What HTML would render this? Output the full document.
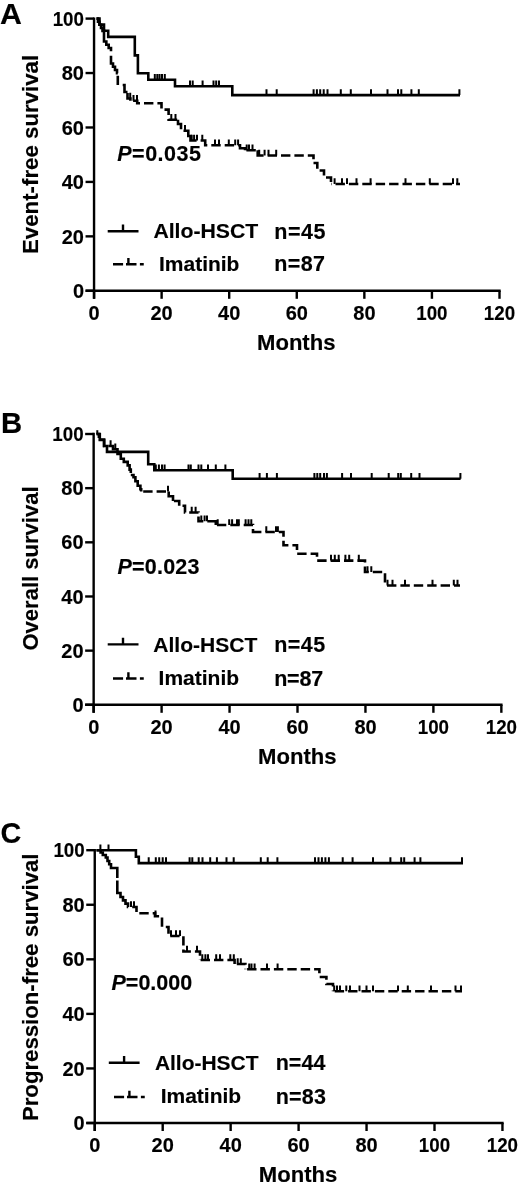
<!DOCTYPE html>
<html><head><meta charset="utf-8"><title>Survival curves</title>
<style>
html,body{margin:0;padding:0;background:#fff;}
svg{display:block;}
text{font-family:"Liberation Sans",Arial,Helvetica,sans-serif;font-weight:bold;fill:#000;stroke:#000;stroke-width:0.15px;}
.t{font-size:20px;}
.big{font-size:29px;}
.yt{font-size:22.7px;}
.p{font-size:21px;}
.m{font-size:22px;}
.l{font-size:21px;}
</style></head><body>
<svg width="520" height="1186" viewBox="0 0 520 1186">
<rect width="520" height="1186" fill="#fff"/>
<path d="M94.05,17.40V298.80" stroke="#000" stroke-width="2.4" fill="none"/>
<path d="M85.55,290.80H500.70" stroke="#000" stroke-width="2.4" fill="none"/>
<path d="M85.55,18.60H94.05" stroke="#000" stroke-width="2.4"/>
<text x="84.0" y="25.7" text-anchor="end" class="t" textLength="31.3" lengthAdjust="spacingAndGlyphs">100</text>
<path d="M85.55,73.04H94.05" stroke="#000" stroke-width="2.4"/>
<text x="84.0" y="80.1" text-anchor="end" class="t">80</text>
<path d="M85.55,127.48H94.05" stroke="#000" stroke-width="2.4"/>
<text x="84.0" y="134.6" text-anchor="end" class="t">60</text>
<path d="M85.55,181.92H94.05" stroke="#000" stroke-width="2.4"/>
<text x="84.0" y="189.0" text-anchor="end" class="t">40</text>
<path d="M85.55,236.36H94.05" stroke="#000" stroke-width="2.4"/>
<text x="84.0" y="243.5" text-anchor="end" class="t">20</text>
<path d="M85.55,290.80H94.05" stroke="#000" stroke-width="2.4"/>
<text x="84.0" y="297.9" text-anchor="end" class="t">0</text>
<path d="M94.05,290.80V298.80" stroke="#000" stroke-width="2.4"/>
<text x="94.0" y="320.1" text-anchor="middle" class="t">0</text>
<path d="M161.62,290.80V298.80" stroke="#000" stroke-width="2.4"/>
<text x="161.6" y="320.1" text-anchor="middle" class="t">20</text>
<path d="M229.20,290.80V298.80" stroke="#000" stroke-width="2.4"/>
<text x="229.2" y="320.1" text-anchor="middle" class="t">40</text>
<path d="M296.77,290.80V298.80" stroke="#000" stroke-width="2.4"/>
<text x="296.8" y="320.1" text-anchor="middle" class="t">60</text>
<path d="M364.35,290.80V298.80" stroke="#000" stroke-width="2.4"/>
<text x="364.4" y="320.1" text-anchor="middle" class="t">80</text>
<path d="M431.93,290.80V298.80" stroke="#000" stroke-width="2.4"/>
<text x="431.9" y="320.1" text-anchor="middle" class="t" textLength="31.3" lengthAdjust="spacingAndGlyphs">100</text>
<path d="M499.50,290.80V298.80" stroke="#000" stroke-width="2.4"/>
<text x="499.5" y="320.1" text-anchor="middle" class="t" textLength="31.3" lengthAdjust="spacingAndGlyphs">120</text>
<path d="M96.5,18.6 H99.5 V24.6 H104.0 V30.7 H108.2 V36.9 H134.8 V55.4 H137.9 V73.2 H148.3 V79.7 H175.0 V86.2 H232.3 V95.1 H460.0" fill="none" stroke="#000" stroke-width="2.6"/>
<path d="M154.8,79.7V73.9 M157.3,79.7V73.9 M159.6,79.7V73.9 M162.0,79.7V73.9 M164.8,79.7V73.9 M190.0,86.2V80.4 M192.7,86.2V80.4 M202.6,86.2V80.4 M213.5,86.2V80.4 M216.2,86.2V80.4 M219.0,86.2V80.4 M266.5,95.1V89.3 M276.7,95.1V89.3 M313.6,95.1V89.3 M316.9,95.1V89.3 M320.2,95.1V89.3 M323.7,95.1V89.3 M327.5,95.1V89.3 M340.8,95.1V89.3 M350.8,95.1V89.3 M371.0,95.1V89.3 M387.5,95.1V89.3 M398.0,95.1V89.3 M401.3,95.1V89.3 M411.4,95.1V89.3 M418.8,95.1V89.3 M459.4,95.1V89.3" fill="none" stroke="#000" stroke-width="2"/>

<path d="M96.50,18.60L98.00,18.60L98.00,21.68L99.50,21.68L99.50,24.76L101.00,24.76L101.00,27.84L102.50,27.84L102.50,30.92L104.00,30.92L104.00,34.00L104.00,41.50L106.33,41.50L106.33,44.77L108.67,44.77L108.67,48.03L111.00,48.03L111.00,51.30 M111.00,55.80L111.00,55.80L111.00,63.50L113.00,63.50L113.00,66.77L115.00,66.77L115.00,70.03L117.00,70.03L117.00,73.30L117.80,73.30 M117.80,75.80L117.80,75.80L117.80,85.00 M122.70,85.00L122.70,85.00L124.50,85.00L124.50,92.00L127.50,92.00 M127.50,93.00L127.50,98.50L130.40,98.50L130.40,100.80 M133.10,100.80L137.20,100.80L137.20,103.30L140.00,103.30 M144.00,103.30L153.40,103.30 M157.40,103.30L161.50,103.30L161.50,108.60 M164.50,109.60L168.60,109.60L168.60,114.90 M168.60,118.90L168.60,119.70L177.20,119.70 M178.00,119.70L178.00,119.70L178.00,124.00L181.00,124.00L181.00,129.30 M183.50,130.80L188.30,130.80L188.30,136.00L190.50,136.00L190.50,140.50L196.60,140.50 M200.60,140.50L205.20,140.50L205.20,145.20L207.30,145.20 M211.30,145.20L220.70,145.20 M224.70,145.20L234.10,145.20 M238.10,145.20L240.00,145.20L240.00,148.30L245.00,148.30L245.00,150.30 M246.40,150.30L255.80,150.30 M257.70,150.30L257.70,150.30L257.70,155.50L263.60,155.50 M267.60,155.50L277.00,155.50 M281.00,155.50L290.40,155.50 M294.40,155.50L303.80,155.50 M307.80,155.50L313.50,155.50L313.50,159.20 M313.50,163.00L313.50,163.00L317.30,163.00L317.30,168.80 M319.60,170.50L324.00,170.50L324.00,175.50 M326.00,177.50L331.00,177.50L331.00,181.90 M331.00,184.00L331.00,184.00L331.50,184.00 M335.50,184.00L344.90,184.00 M348.90,184.00L358.30,184.00 M362.30,184.00L371.70,184.00 M375.70,184.00L385.10,184.00 M389.10,184.00L398.50,184.00 M402.50,184.00L411.90,184.00 M415.90,184.00L425.30,184.00 M429.30,184.00L438.70,184.00 M442.70,184.00L452.10,184.00 M456.10,184.00L460.00,184.00" fill="none" stroke="#000" stroke-width="2.6" stroke-linejoin="miter"/>
<path d="M130.2,98.5V92.7 M133.5,100.8V95.0 M137.0,100.8V95.0 M171.3,119.7V113.9 M175.5,119.7V113.9 M185.0,130.8V125.0 M191.7,140.5V134.7 M194.1,140.5V134.7 M197.0,140.5V134.7 M202.3,140.5V134.7 M215.0,145.2V139.4 M219.0,145.2V139.4 M228.8,145.2V139.4 M235.2,145.2V139.4 M238.1,145.2V139.4 M246.7,150.3V144.5 M249.0,150.3V144.5 M252.5,150.3V144.5 M259.2,155.5V149.7 M264.6,155.5V149.7 M268.5,155.5V149.7 M276.2,155.5V149.7 M334.6,184.0V178.2 M342.0,184.0V178.2 M347.0,184.0V178.2 M356.5,184.0V178.2 M370.6,184.0V178.2 M405.5,184.0V178.2 M429.8,184.0V178.2 M453.0,184.0V178.2 M457.3,184.0V178.2" fill="none" stroke="#000" stroke-width="2"/>

<path d="M107.7,231.2H138.5M123.0,231.2V224.6" stroke="#000" stroke-width="2.4" fill="none"/>
<path d="M113.0,264.2h10.1M126.0,264.2h10.5M139.9,264.2h3.85M128.4,264.2V258.0" stroke="#000" stroke-width="2.4" fill="none"/>
<path d="M93.65,432.80V712.80" stroke="#000" stroke-width="2.4" fill="none"/>
<path d="M85.15,704.80H502.55" stroke="#000" stroke-width="2.4" fill="none"/>
<path d="M85.15,434.00H93.65" stroke="#000" stroke-width="2.4"/>
<text x="83.6" y="441.1" text-anchor="end" class="t" textLength="31.3" lengthAdjust="spacingAndGlyphs">100</text>
<path d="M85.15,488.16H93.65" stroke="#000" stroke-width="2.4"/>
<text x="83.6" y="495.3" text-anchor="end" class="t">80</text>
<path d="M85.15,542.32H93.65" stroke="#000" stroke-width="2.4"/>
<text x="83.6" y="549.4" text-anchor="end" class="t">60</text>
<path d="M85.15,596.48H93.65" stroke="#000" stroke-width="2.4"/>
<text x="83.6" y="603.6" text-anchor="end" class="t">40</text>
<path d="M85.15,650.64H93.65" stroke="#000" stroke-width="2.4"/>
<text x="83.6" y="657.7" text-anchor="end" class="t">20</text>
<path d="M85.15,704.80H93.65" stroke="#000" stroke-width="2.4"/>
<text x="83.6" y="711.9" text-anchor="end" class="t">0</text>
<path d="M93.65,704.80V712.80" stroke="#000" stroke-width="2.4"/>
<text x="93.7" y="734.1" text-anchor="middle" class="t">0</text>
<path d="M161.60,704.80V712.80" stroke="#000" stroke-width="2.4"/>
<text x="161.6" y="734.1" text-anchor="middle" class="t">20</text>
<path d="M229.55,704.80V712.80" stroke="#000" stroke-width="2.4"/>
<text x="229.6" y="734.1" text-anchor="middle" class="t">40</text>
<path d="M297.50,704.80V712.80" stroke="#000" stroke-width="2.4"/>
<text x="297.5" y="734.1" text-anchor="middle" class="t">60</text>
<path d="M365.45,704.80V712.80" stroke="#000" stroke-width="2.4"/>
<text x="365.5" y="734.1" text-anchor="middle" class="t">80</text>
<path d="M433.40,704.80V712.80" stroke="#000" stroke-width="2.4"/>
<text x="433.4" y="734.1" text-anchor="middle" class="t" textLength="31.3" lengthAdjust="spacingAndGlyphs">100</text>
<path d="M501.35,704.80V712.80" stroke="#000" stroke-width="2.4"/>
<text x="501.4" y="734.1" text-anchor="middle" class="t" textLength="31.3" lengthAdjust="spacingAndGlyphs">120</text>
<path d="M97.3,434V430.2" stroke="#000" stroke-width="2" fill="none"/>
<path d="M96.5,434.0 H99.8 V440.0 H104.1 V446.0 H107.0 V451.9 H148.2 V464.2 H154.3 V470.3 H232.7 V478.8 H460.6" fill="none" stroke="#000" stroke-width="2.6"/>
<path d="M155.8,470.3V464.5 M158.9,470.3V464.5 M162.0,470.3V464.5 M164.6,470.3V464.5 M188.5,470.3V464.5 M190.8,470.3V464.5 M198.5,470.3V464.5 M201.3,470.3V464.5 M208.0,470.3V464.5 M215.8,470.3V464.5 M225.4,470.3V464.5 M259.6,478.8V473.0 M266.9,478.8V473.0 M276.9,478.8V473.0 M314.4,478.8V473.0 M317.3,478.8V473.0 M320.2,478.8V473.0 M324.0,478.8V473.0 M326.9,478.8V473.0 M342.1,478.8V473.0 M351.0,478.8V473.0 M371.7,478.8V473.0 M388.7,478.8V473.0 M398.2,478.8V473.0 M400.8,478.8V473.0 M411.2,478.8V473.0 M419.5,478.8V473.0 M460.4,478.8V473.0" fill="none" stroke="#000" stroke-width="2"/>

<path d="M96.50,434.00L98.90,434.00L98.90,438.00 M98.90,439.50L98.90,439.50L104.10,439.50L104.10,446.00L104.30,446.00 M108.30,446.00L113.00,446.00L113.00,449.30L117.50,449.30L117.50,454.00L120.80,454.00L120.80,458.80L123.80,458.80L123.80,461.90L127.70,461.90L127.70,465.40L129.60,465.40L129.60,469.60L130.80,469.60L130.80,473.10 M130.80,475.00L130.80,475.00L133.50,475.00L133.50,477.30L135.40,477.30L135.40,481.20L137.70,481.20L137.70,485.80L140.40,485.80L140.40,489.20L141.20,489.20L141.20,491.50 M143.20,491.50L152.60,491.50 M156.60,491.50L166.00,491.50 M168.70,491.50L168.70,491.50L168.70,496.20L173.00,496.20L173.00,501.00 M173.90,501.00L179.20,501.00L179.20,505.80 M182.50,505.80L185.00,505.80L185.00,512.50L185.20,512.50 M189.20,512.50L198.50,512.50L198.50,512.60 M198.50,516.60L198.50,521.20L203.30,521.20 M207.30,521.20L215.80,521.20L215.80,525.00 M216.90,525.00L226.30,525.00 M230.30,525.00L239.70,525.00 M243.70,525.00L253.00,525.00L253.00,525.10 M253.00,529.10L253.00,532.00L261.40,532.00 M265.40,532.00L274.80,532.00 M278.80,532.00L283.50,532.00L283.50,536.70 M283.50,540.70L283.50,545.20L288.40,545.20 M292.40,545.20L297.00,545.20L297.00,550.00 M297.20,553.80L306.60,553.80 M310.60,553.80L317.00,553.80L317.00,556.80 M317.20,560.60L326.60,560.60 M330.60,560.60L340.00,560.60 M344.00,560.60L353.40,560.60 M357.40,560.60L365.00,560.60L365.00,562.40 M365.00,566.40L365.00,572.00L368.80,572.00 M372.80,572.00L382.20,572.00 M385.00,573.20L385.00,582.60 M387.00,585.50L396.40,585.50 M400.40,585.50L409.80,585.50 M413.80,585.50L423.20,585.50 M427.20,585.50L436.60,585.50 M440.60,585.50L450.00,585.50 M454.00,585.50L460.00,585.50" fill="none" stroke="#000" stroke-width="2.6" stroke-linejoin="miter"/>
<path d="M110.6,446.0V440.2 M115.3,449.3V443.5 M168.0,491.5V485.7 M191.7,512.5V506.7 M195.6,512.5V506.7 M201.3,521.2V515.4 M204.6,521.2V515.4 M207.0,521.2V515.4 M217.7,525.0V519.2 M229.2,525.0V519.2 M232.1,525.0V519.2 M237.0,525.0V519.2 M238.8,525.0V519.2 M245.6,525.0V519.2 M248.5,525.0V519.2 M251.3,525.0V519.2 M266.3,532.0V526.2 M276.0,532.0V526.2 M277.9,532.0V526.2 M331.0,560.6V554.8 M334.8,560.6V554.8 M338.7,560.6V554.8 M345.4,560.6V554.8 M349.2,560.6V554.8 M358.8,560.6V554.8 M367.5,572.0V566.2 M371.3,572.0V566.2 M387.5,585.5V579.7 M392.5,585.5V579.7 M405.0,585.5V579.7 M432.5,585.5V579.7 M453.8,585.5V579.7 M457.5,585.5V579.7" fill="none" stroke="#000" stroke-width="2"/>

<path d="M107.7,644.4H138.5M123.0,644.4V637.8" stroke="#000" stroke-width="2.4" fill="none"/>
<path d="M113.0,678.5h10.1M126.0,678.5h10.5M139.9,678.5h3.85M128.4,678.5V672.3" stroke="#000" stroke-width="2.4" fill="none"/>
<path d="M94.75,849.00V1131.00" stroke="#000" stroke-width="2.4" fill="none"/>
<path d="M86.25,1123.00H503.65" stroke="#000" stroke-width="2.4" fill="none"/>
<path d="M86.25,850.20H94.75" stroke="#000" stroke-width="2.4"/>
<text x="84.7" y="857.3" text-anchor="end" class="t" textLength="31.3" lengthAdjust="spacingAndGlyphs">100</text>
<path d="M86.25,904.76H94.75" stroke="#000" stroke-width="2.4"/>
<text x="84.7" y="911.9" text-anchor="end" class="t">80</text>
<path d="M86.25,959.32H94.75" stroke="#000" stroke-width="2.4"/>
<text x="84.7" y="966.4" text-anchor="end" class="t">60</text>
<path d="M86.25,1013.88H94.75" stroke="#000" stroke-width="2.4"/>
<text x="84.7" y="1021.0" text-anchor="end" class="t">40</text>
<path d="M86.25,1068.44H94.75" stroke="#000" stroke-width="2.4"/>
<text x="84.7" y="1075.5" text-anchor="end" class="t">20</text>
<path d="M86.25,1123.00H94.75" stroke="#000" stroke-width="2.4"/>
<text x="84.7" y="1130.1" text-anchor="end" class="t">0</text>
<path d="M94.75,1123.00V1131.00" stroke="#000" stroke-width="2.4"/>
<text x="94.8" y="1152.3" text-anchor="middle" class="t">0</text>
<path d="M162.70,1123.00V1131.00" stroke="#000" stroke-width="2.4"/>
<text x="162.7" y="1152.3" text-anchor="middle" class="t">20</text>
<path d="M230.65,1123.00V1131.00" stroke="#000" stroke-width="2.4"/>
<text x="230.7" y="1152.3" text-anchor="middle" class="t">40</text>
<path d="M298.60,1123.00V1131.00" stroke="#000" stroke-width="2.4"/>
<text x="298.6" y="1152.3" text-anchor="middle" class="t">60</text>
<path d="M366.55,1123.00V1131.00" stroke="#000" stroke-width="2.4"/>
<text x="366.6" y="1152.3" text-anchor="middle" class="t">80</text>
<path d="M434.50,1123.00V1131.00" stroke="#000" stroke-width="2.4"/>
<text x="434.5" y="1152.3" text-anchor="middle" class="t" textLength="31.3" lengthAdjust="spacingAndGlyphs">100</text>
<path d="M502.45,1123.00V1131.00" stroke="#000" stroke-width="2.4"/>
<text x="502.4" y="1152.3" text-anchor="middle" class="t" textLength="31.3" lengthAdjust="spacingAndGlyphs">120</text>
<path d="M96.5,850.2 H135.9 V856.8 H138.8 V863.1 H463.0" fill="none" stroke="#000" stroke-width="2.6"/>
<path d="M100.4,850.2V844.4 M108.5,850.2V844.4 M148.7,863.1V857.3 M155.8,863.1V857.3 M159.2,863.1V857.3 M162.7,863.1V857.3 M166.0,863.1V857.3 M189.6,863.1V857.3 M192.3,863.1V857.3 M198.7,863.1V857.3 M202.5,863.1V857.3 M210.2,863.1V857.3 M216.9,863.1V857.3 M226.5,863.1V857.3 M233.7,863.1V857.3 M260.8,863.1V857.3 M267.7,863.1V857.3 M277.4,863.1V857.3 M315.0,863.1V857.3 M318.5,863.1V857.3 M321.9,863.1V857.3 M325.4,863.1V857.3 M328.9,863.1V857.3 M342.7,863.1V857.3 M352.6,863.1V857.3 M373.0,863.1V857.3 M390.4,863.1V857.3 M401.2,863.1V857.3 M404.2,863.1V857.3 M414.6,863.1V857.3 M420.4,863.1V857.3 M462.0,863.1V857.3" fill="none" stroke="#000" stroke-width="2"/>

<path d="M96.50,850.20L100.60,850.20L100.60,852.50L102.80,852.50L102.80,855.00L105.80,855.00L105.80,857.50L107.50,857.50L107.50,861.00L109.20,861.00L109.20,864.30L111.00,864.30L111.00,868.00L117.30,868.00L117.30,878.00 M117.30,880.50L117.30,880.50L117.30,893.00L120.50,893.00L120.50,897.00L123.00,897.00L123.00,900.33L125.50,900.33L125.50,903.67L128.00,903.67L128.00,907.00L128.20,907.00 M132.20,907.00L136.50,907.00L136.50,912.10 M139.30,913.30L148.70,913.30 M152.70,913.30L155.00,913.30L155.00,916.30L159.10,916.30 M162.00,917.40L162.00,926.80 M165.80,927.00L168.50,927.00L168.50,933.70 M170.20,936.00L179.60,936.00 M183.40,936.20L183.40,945.60 M183.40,949.60L183.40,951.50L190.90,951.50 M194.90,951.50L200.00,951.50L200.00,955.80 M200.00,959.80L200.00,960.00 M200.60,960.00L210.00,960.00 M214.00,960.00L223.40,960.00 M227.40,960.00L234.60,960.00L234.60,964.00 M236.80,964.00L245.40,964.00L245.40,964.80 M245.40,968.80L245.40,969.20 M247.10,969.20L256.50,969.20 M260.50,969.20L269.90,969.20 M273.90,969.20L283.30,969.20 M287.30,969.20L296.70,969.20 M300.70,969.20L310.10,969.20 M314.10,969.20L319.40,969.20L319.40,973.30 M319.70,977.00L326.40,977.00L326.40,979.70 M326.40,983.70L326.40,984.00L333.00,984.00L333.00,986.50 M333.00,990.50L333.00,991.30 M334.70,991.30L344.10,991.30 M348.10,991.30L357.50,991.30 M361.50,991.30L370.90,991.30 M374.90,991.30L384.30,991.30 M388.30,991.30L397.70,991.30 M401.70,991.30L411.10,991.30 M415.10,991.30L424.50,991.30 M428.50,991.30L437.90,991.30 M441.90,991.30L451.30,991.30 M455.30,991.30L462.00,991.30" fill="none" stroke="#000" stroke-width="2.6" stroke-linejoin="miter"/>
<path d="M131.0,907.0V901.2 M134.0,907.0V901.2 M155.5,916.3V910.5 M171.0,936.0V930.2 M176.0,936.0V930.2 M180.0,936.0V930.2 M187.0,951.5V945.7 M197.0,951.5V945.7 M202.3,960.0V954.2 M205.4,960.0V954.2 M208.0,960.0V954.2 M216.2,960.0V954.2 M220.0,960.0V954.2 M230.3,960.0V954.2 M233.8,960.0V954.2 M237.7,964.0V958.2 M240.8,964.0V958.2 M249.2,969.2V963.4 M251.5,969.2V963.4 M254.6,969.2V963.4 M267.0,969.2V963.4 M277.6,969.2V963.4 M334.2,991.3V985.5 M337.0,991.3V985.5 M340.0,991.3V985.5 M346.3,991.3V985.5 M350.0,991.3V985.5 M359.5,991.3V985.5 M366.5,991.3V985.5 M373.0,991.3V985.5 M398.0,991.3V985.5 M407.8,991.3V985.5 M431.0,991.3V985.5 M455.5,991.3V985.5 M461.0,991.3V985.5" fill="none" stroke="#000" stroke-width="2"/>

<path d="M108.8,1062.7H139.6M124.1,1062.7V1056.1" stroke="#000" stroke-width="2.4" fill="none"/>
<path d="M114.0,1097.0h10.1M127.0,1097.0h10.5M140.9,1097.0h3.85M129.4,1097.0V1090.8" stroke="#000" stroke-width="2.4" fill="none"/>
<text x="0.05" y="23.50" font-size="30.0" textLength="21.89" lengthAdjust="spacingAndGlyphs">A</text>
<text x="0.95" y="433.20" font-size="30.0" textLength="21.15" lengthAdjust="spacingAndGlyphs">B</text>
<text x="0.50" y="843.30" font-size="30.0" textLength="20.79" lengthAdjust="spacingAndGlyphs">C</text>
<text x="117.25" y="161.25" font-size="21.5" textLength="83.68" lengthAdjust="spacing"><tspan font-style="italic">P</tspan>=0.035</text>
<text x="117.45" y="574.25" font-size="21.5" textLength="82.02" lengthAdjust="spacing"><tspan font-style="italic">P</tspan>=0.023</text>
<text x="111.45" y="989.95" font-size="21.5" textLength="80.86" lengthAdjust="spacing"><tspan font-style="italic">P</tspan>=0.000</text>
<text x="257.00" y="349.75" font-size="22.5" textLength="78.49" lengthAdjust="spacingAndGlyphs">Months</text>
<text x="258.10" y="763.55" font-size="22.5" textLength="78.54" lengthAdjust="spacingAndGlyphs">Months</text>
<text x="258.80" y="1182.05" font-size="22.5" textLength="78.54" lengthAdjust="spacingAndGlyphs">Months</text>
<text x="153.40" y="237.85" font-size="20.8" textLength="104.89" lengthAdjust="spacingAndGlyphs">Allo-HSCT</text>
<text x="153.30" y="651.75" font-size="20.8" textLength="104.03" lengthAdjust="spacingAndGlyphs">Allo-HSCT</text>
<text x="154.90" y="1069.85" font-size="20.8" textLength="103.63" lengthAdjust="spacingAndGlyphs">Allo-HSCT</text>
<text x="159.05" y="270.75" font-size="20.8" textLength="80.35" lengthAdjust="spacingAndGlyphs">Imatinib</text>
<text x="158.55" y="685.15" font-size="20.8" textLength="80.50" lengthAdjust="spacingAndGlyphs">Imatinib</text>
<text x="160.65" y="1103.05" font-size="20.8" textLength="80.50" lengthAdjust="spacingAndGlyphs">Imatinib</text>
<text x="274.35" y="238.55" font-size="21.5" textLength="51.22" lengthAdjust="spacing">n=45</text>
<text x="274.35" y="271.45" font-size="21.5" textLength="50.71" lengthAdjust="spacing">n=87</text>
<text x="274.15" y="651.75" font-size="21.5" textLength="51.01" lengthAdjust="spacing">n=45</text>
<text x="274.15" y="685.55" font-size="21.5" textLength="49.03" lengthAdjust="spacing">n=87</text>
<text x="275.65" y="1070.30" font-size="21.5" textLength="49.87" lengthAdjust="spacing">n=44</text>
<text x="275.65" y="1103.95" font-size="21.5" textLength="50.39" lengthAdjust="spacing">n=83</text>
<text transform="translate(38.10,254.00) rotate(-90)" font-size="22.0" textLength="199.16" lengthAdjust="spacingAndGlyphs">Event-free survival</text>
<text transform="translate(38.20,650.55) rotate(-90)" font-size="22.0" textLength="164.14" lengthAdjust="spacingAndGlyphs">Overall survival</text>
<text transform="translate(38.20,1121.10) rotate(-90)" font-size="22.0" textLength="267.62" lengthAdjust="spacingAndGlyphs">Progression-free survival</text>
</svg>
</body></html>
